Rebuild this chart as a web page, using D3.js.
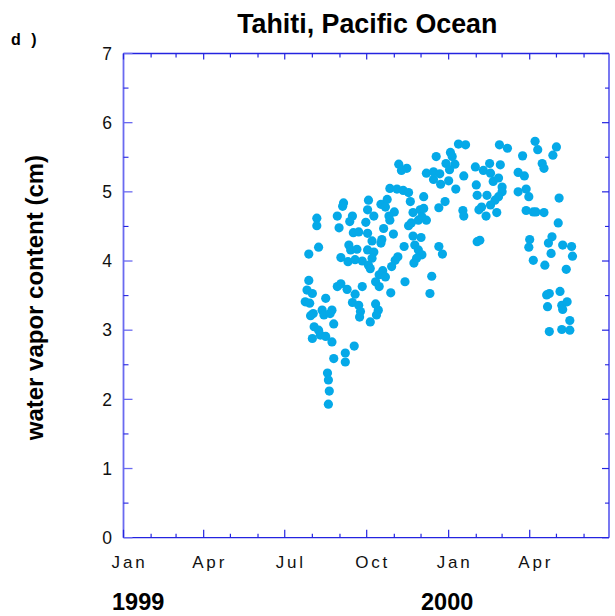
<!DOCTYPE html>
<html>
<head>
<meta charset="utf-8">
<script src="https://cdn.jsdelivr.net/npm/d3@7"></script>
<style>
  html, body { margin: 0; padding: 0; background: #fff; }
  text { font-family: "Liberation Sans", Arial, Helvetica, sans-serif; }
</style>
</head>
<body>
<svg id="chart" width="615" height="616"></svg>
<script>
// ---- data (days since 1 Jan 1999, water vapour content in cm) ----
const dayOfRecord = [
  247,246,217,217,240,257,254,242,272,258,264,219,208,253,255,262,244,252,260,268,
  208,206,212,240,244,251,268,260,257,264,266,265,204,209,227,213,210,223,225,234,
  232,236,214,219,212,221,227,234,259,249,236,249,229,230,231,230,
  351,309,318,312,340,348,355,348,356,299,307,314,320,275,289,296,294,337,322,274,
  281,304,298,299,325,333,337,340,335,331,323,320,354,274,292,303,279,290,289,325,
  334,327,315,354,331,335,329,326,274,281,279,275,308,305,301,277,291,287,294,346,
  283,287,316,300,344,283,286,284,277,
  376,384,422,431,367,369,362,372,366,395,411,423,404,412,382,443,365,415,421,396,
  373,425,425,443,397,408,421,417,361,412,402,399,381,382,407,419,400,397,358,
  462,486,465,448,482,470,472,450,452,455,489,452,460,463,472,488,456,481,477,455,
  493,503,480,504,460,473,497,475,478,490,476,498,492,493,501,492,501,478
];
const waterVapor = [
  4.84,4.79,4.62,4.51,4.65,4.65,4.57,4.48,4.56,4.41,4.42,4.20,4.10,4.23,4.16,4.17,4.05,3.99,4.02,4.00,
  3.72,3.58,3.53,3.63,3.67,3.59,3.63,3.52,3.40,3.36,3.27,3.19,3.41,3.39,3.46,3.24,3.21,3.29,3.22,3.29,
  3.24,3.09,3.05,3.00,2.88,2.93,2.91,2.83,2.77,2.67,2.59,2.54,2.38,2.28,2.12,1.93,
  5.51,5.40,5.34,5.31,5.27,5.29,5.26,5.18,5.11,5.05,5.04,5.02,4.99,4.88,4.82,4.89,4.78,4.93,4.86,4.74,
  4.65,4.71,4.65,4.59,4.70,4.74,4.76,4.59,4.64,4.59,4.55,4.51,4.77,4.40,4.47,4.39,4.29,4.31,4.26,4.36,
  4.34,4.23,4.21,4.21,4.16,4.09,4.04,3.97,4.16,4.13,4.04,3.94,4.06,4.01,3.92,3.89,3.86,3.80,3.77,3.78,
  3.70,3.63,3.70,3.54,3.53,3.38,3.29,3.22,3.12,
  5.69,5.68,5.68,5.63,5.57,5.51,5.41,5.40,5.32,5.36,5.41,5.39,5.31,5.27,5.23,5.28,5.16,5.15,5.20,5.10,
  5.04,5.07,5.00,5.00,4.95,4.95,4.93,4.88,4.86,4.81,4.78,4.74,4.73,4.65,4.65,4.70,4.30,4.28,4.10,
  5.73,5.65,5.61,5.52,5.53,5.41,5.34,5.23,5.04,4.93,4.91,4.73,4.71,4.71,4.70,4.55,4.31,4.35,4.26,4.20,
  4.23,4.21,4.11,4.07,4.01,3.94,3.88,3.51,3.53,3.56,3.34,3.41,3.36,3.30,3.14,3.01,3.00,2.98
];
const yTicks = [0, 1, 2, 3, 4, 5, 6, 7];
const monthNames = ["Jan","Feb","Mar","Apr","May","Jun","Jul","Aug","Sep","Oct","Nov","Dec"];
const yearLabels = ["1999", "2000"];
const titleText = "Tahiti, Pacific Ocean";
const panelLabel = "d )";
const yLabel = "water vapor content (cm)";

(function () {
// ---- layout ----
const pl = 123.5, pr = 609, pt = 53.5, pb = 537.7;
const start = new Date(1999, 0, 1);
const end = new Date(2000, 5, 29);
const axisBlue = "#2424e0";
const sideBlue = "#6a6af0";
const dotColor = "#05a9e8";

const svg = d3.select("#chart");
const x = d3.scaleTime().domain([start, end]).range([pl, pr]);
const y = d3.scaleLinear().domain([0, 7]).range([pb, pt]);

const data = dayOfRecord.map((d, i) => ({ date: d3.timeDay.offset(start, d), v: waterVapor[i] }));

// points
svg.append("g").selectAll("circle").data(data).join("circle")
  .attr("cx", d => x(d.date)).attr("cy", d => y(d.v)).attr("r", 4.6)
  .attr("fill", dotColor);

// frame
const g = svg.append("g");
g.append("line").attr("x1", pl).attr("x2", pr).attr("y1", pb).attr("y2", pb)
  .attr("stroke", axisBlue).attr("stroke-width", 1.3);
g.append("line").attr("x1", pl).attr("x2", pr).attr("y1", pt).attr("y2", pt)
  .attr("stroke", axisBlue).attr("stroke-width", 1.3);
g.append("line").attr("x1", pl).attr("x2", pl).attr("y1", pt).attr("y2", pb)
  .attr("stroke", sideBlue).attr("stroke-width", 1.8);
g.append("line").attr("x1", pr).attr("x2", pr).attr("y1", pt).attr("y2", pb)
  .attr("stroke", sideBlue).attr("stroke-width", 1.8);

// y ticks (major integers, minor halves) on left and right
const yMinor = d3.range(0.5, 7, 1);
yTicks.forEach(t => {
  g.append("line").attr("x1", pl).attr("x2", pl + 9).attr("y1", y(t)).attr("y2", y(t))
    .attr("stroke", sideBlue).attr("stroke-width", 1.3);
  g.append("line").attr("x1", pr - 7).attr("x2", pr).attr("y1", y(t)).attr("y2", y(t))
    .attr("stroke", axisBlue).attr("stroke-width", 1.2);
});
yMinor.forEach(t => {
  g.append("line").attr("x1", pl).attr("x2", pl + 5).attr("y1", y(t)).attr("y2", y(t))
    .attr("stroke", axisBlue).attr("stroke-width", 1.1);
  g.append("line").attr("x1", pr - 4).attr("x2", pr).attr("y1", y(t)).attr("y2", y(t))
    .attr("stroke", axisBlue).attr("stroke-width", 1.1);
});
svg.append("g").selectAll("text").data(yTicks).join("text")
  .attr("x", 112).attr("y", d => y(d)).attr("dy", "0.36em")
  .attr("text-anchor", "end").attr("font-size", 17.5).attr("fill", "#111")
  .text(d => d);

// x ticks: monthly minor, quarterly major
const months = d3.timeMonth.range(start, d3.timeDay.offset(end, 1));
months.forEach(m => {
  const major = m.getMonth() % 3 === 0;
  const px = x(m);
  g.append("line").attr("x1", px).attr("x2", px).attr("y1", pb).attr("y2", pb - (major ? 8 : 4))
    .attr("stroke", axisBlue).attr("stroke-width", 1.2);
  g.append("line").attr("x1", px).attr("x2", px).attr("y1", pt).attr("y2", pt + (major ? 6 : 4))
    .attr("stroke", axisBlue).attr("stroke-width", 1.2);
});
const majorMonths = months.filter(m => m.getMonth() % 3 === 0);
svg.append("g").selectAll("text").data(majorMonths).join("text")
  .attr("x", d => x(d) + 6).attr("y", 568)
  .attr("text-anchor", "middle").attr("font-size", 17).attr("letter-spacing", 2.8)
  .attr("fill", "#111")
  .text(d => monthNames[d.getMonth()]);

// year labels
const yearPos = [112, 421];
svg.append("g").selectAll("text").data(yearLabels).join("text")
  .attr("x", (d, i) => yearPos[i]).attr("y", 610)
  .attr("font-size", 23.5).attr("font-weight", "bold").attr("fill", "#000")
  .text(d => d);

// title
svg.append("text").attr("x", (pl + pr) / 2 + 1).attr("y", 33)
  .attr("text-anchor", "middle").attr("font-size", 26.8).attr("font-weight", "bold")
  .attr("fill", "#000").text(titleText);

// panel label
svg.append("text").attr("x", 11).attr("y", 45)
  .attr("font-size", 16).attr("font-weight", "bold").attr("letter-spacing", 3)
  .attr("fill", "#000").text(panelLabel);

// y axis label
svg.append("text").attr("transform", `translate(43, ${(pt + pb) / 2 + 2}) rotate(-90)`)
  .attr("text-anchor", "middle").attr("font-size", 24).attr("font-weight", "bold")
  .attr("fill", "#000").text(yLabel);
})();
</script>
</body>
</html>
